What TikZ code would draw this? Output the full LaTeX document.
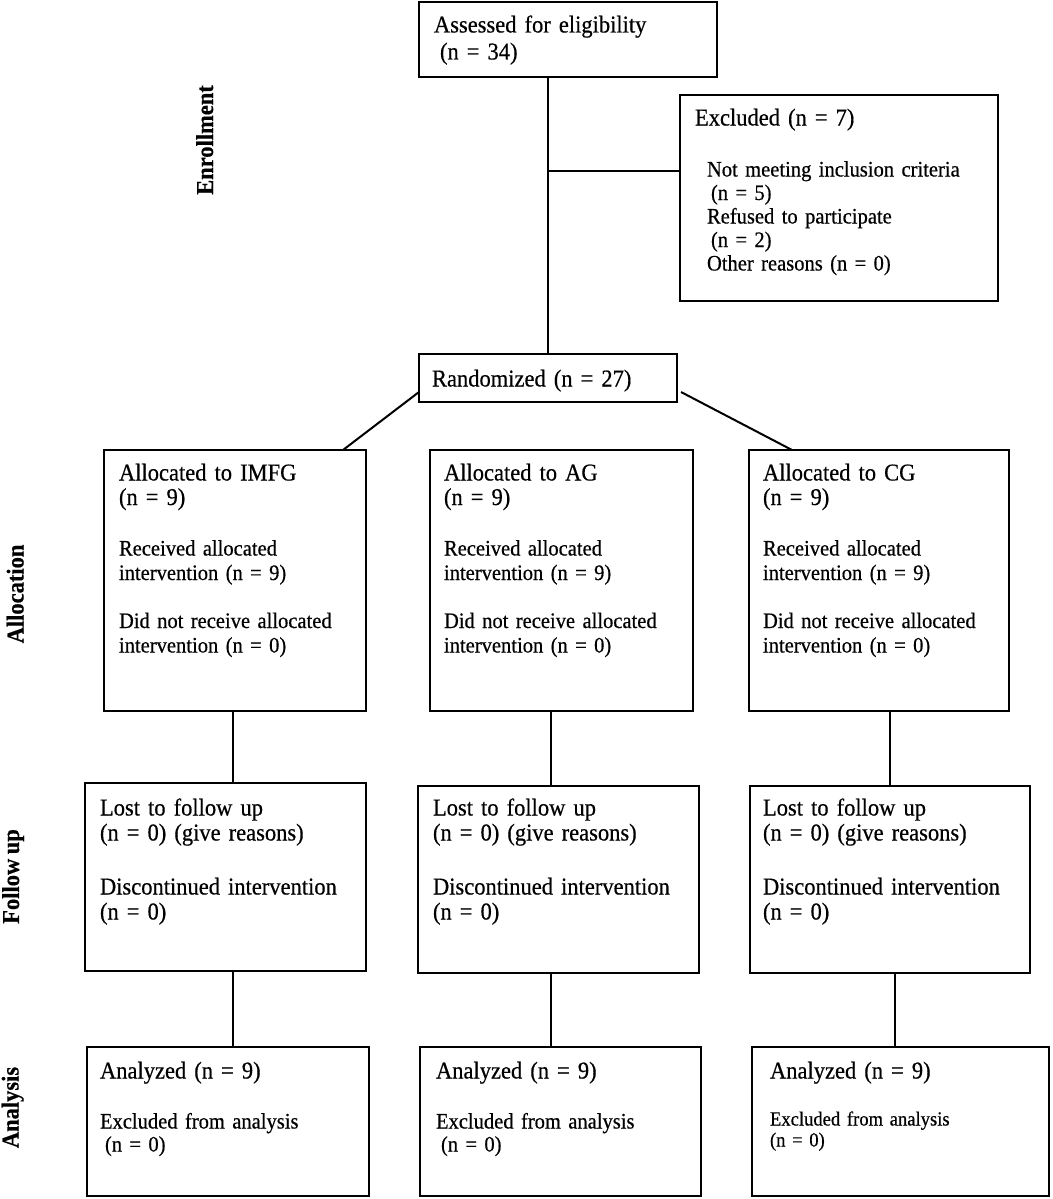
\documentclass[tikz,border=0pt]{standalone}
\usepackage{fontspec}
\setmainfont{Liberation Serif}[FakeStretch=0.93, WordSpace=0.8, FakeBold=0.5]
\usetikzlibrary{fit,calc}
\newcommand{\flowbox}[5]{%
  \path (#2,#3) coordinate (#1-nw) (#4,#5) coordinate (#1-se);
  \node[box, fit=(#1-nw)(#1-se)] (#1) {};}
\begin{document}
\begin{tikzpicture}[x=1pt,y=-1pt,
  box/.style={draw, line width=2.4pt, inner sep=0pt, outer sep=0pt},
  txt/.style={inner sep=0pt, outer sep=0pt, anchor=base west, align=left, text width=320pt},
  big/.style={font=\fontsize{24.2}{24.5}\selectfont},
  small/.style={font=\fontsize{22.1}{24.5}\selectfont},
  lab/.style={inner sep=0pt, outer sep=0pt, rotate=90, anchor=base, font=\fontsize{24.2}{24}\selectfont\bfseries},
  conn/.style={draw, line width=2pt},
  conn2/.style={draw, line width=1.7pt}]
\fill[white] (0,0) rectangle (1052,1199);
\useasboundingbox (0,0) rectangle (1052,1199);

% boxes
\flowbox{assess}{419}{2}{717}{77}
\flowbox{excl}{680}{95}{998}{301}
\flowbox{rand}{419}{354}{677}{402}
\flowbox{allocI}{104}{450}{366}{711}
\flowbox{allocA}{430}{450}{693}{711}
\flowbox{allocC}{749}{450}{1009}{711}
\flowbox{fuI}{85}{783}{366}{971}
\flowbox{fuA}{418}{786}{699}{973}
\flowbox{fuC}{750}{786}{1030}{973}
\flowbox{anI}{87}{1047}{369}{1196}
\flowbox{anA}{420}{1047}{701}{1196}
\flowbox{anC}{752}{1047}{1049}{1196}

% texts
\node[txt, font=\fontsize{24.2}{27}\selectfont] (assess-t) at (434,32.5) {Assessed for eligibility\\\hspace*{6pt}(n = 34)};
\node[txt, big] (excl-h) at (695,125.5) {Excluded (n = 7)};
\node[txt, font=\fontsize{22.1}{23.5}\selectfont] (excl-t) at (707,176.5) {Not meeting inclusion criteria\\\hspace*{4pt}(n = 5)\\Refused to participate\\\hspace*{4pt}(n = 2)\\Other reasons (n = 0)};
\node[txt, big] (rand-t) at (432,386.5) {Randomized (n = 27)};

\node[txt, big] (allocI-h) at (119,480.5) {Allocated to IMFG\\(n = 9)};
\node[txt, small] (allocI-t) at (119,555.5) {Received allocated\\intervention (n = 9)\\[23.5pt]Did not receive allocated\\intervention (n = 0)};
\node[txt, big] (allocA-h) at (444,480.5) {Allocated to AG\\(n = 9)};
\node[txt, small] (allocA-t) at (444,555.5) {Received allocated\\intervention (n = 9)\\[23.5pt]Did not receive allocated\\intervention (n = 0)};
\node[txt, big] (allocC-h) at (763,480.5) {Allocated to CG\\(n = 9)};
\node[txt, small] (allocC-t) at (763,555.5) {Received allocated\\intervention (n = 9)\\[23.5pt]Did not receive allocated\\intervention (n = 0)};

\node[txt, font=\fontsize{24.2}{25}\selectfont] (fuI-t) at (100,815.5) {Lost to follow up\\(n = 0) (give reasons)\\[29pt]Discontinued intervention\\(n = 0)};
\node[txt, font=\fontsize{24.2}{25}\selectfont] (fuA-t) at (433,815.5) {Lost to follow up\\(n = 0) (give reasons)\\[29pt]Discontinued intervention\\(n = 0)};
\node[txt, font=\fontsize{24.2}{25}\selectfont] (fuC-t) at (763,815.5) {Lost to follow up\\(n = 0) (give reasons)\\[29pt]Discontinued intervention\\(n = 0)};

\node[txt, big] (anI-h) at (100,1078.5) {Analyzed (n = 9)};
\node[txt, font=\fontsize{22.1}{23}\selectfont] (anI-t) at (100,1128.5) {Excluded from analysis\\\hspace*{5pt}(n = 0)};
\node[txt, big] (anA-h) at (436,1078.5) {Analyzed (n = 9)};
\node[txt, font=\fontsize{22.1}{23}\selectfont] (anA-t) at (436,1128.5) {Excluded from analysis\\\hspace*{5pt}(n = 0)};
\node[txt, big] (anC-h) at (770,1078.5) {Analyzed (n = 9)};
\node[txt, font=\fontsize{20}{21}\selectfont] (anC-t) at (770,1125.5) {Excluded from analysis\\(n = 0)};

% stage labels
\node[lab] (l-enr) at (213,140) {Enrollment};
\node[lab] (l-all) at (23.5,594) {Allocation};
\node[lab] (l-fu) at (19,876.5) {Follow up};
\node[lab] (l-an) at (18.5,1107.5) {Analysis};

% helper coordinates
\coordinate (jy) at (0,171);
\coordinate (dy) at (0,392);
\coordinate (vI) at (233,0);
\coordinate (vA) at (551,0);
\coordinate (vC1) at (890,0);
\coordinate (vC2) at (895,0);

% connectors
\draw[conn] (rand.north) -- (rand.north |- assess.south);
\draw[conn] (rand.north |- jy) -- (excl.west |- jy);
\draw[conn] (rand.west |- dy) -- ($(allocI.north east)+(-23,0)$);
\draw[conn] ($(rand.east |- dy)+(4,0)$) -- ($(allocC.north west)+(43,0)$);

\draw[conn2] (allocI.south -| vI) -- (fuI.north -| vI);
\draw[conn2] (fuI.south -| vI) -- (anI.north -| vI);
\draw[conn2] (allocA.south -| vA) -- (fuA.north -| vA);
\draw[conn2] (fuA.south -| vA) -- (anA.north -| vA);
\draw[conn2] (allocC.south -| vC1) -- (fuC.north -| vC1);
\draw[conn2] (fuC.south -| vC2) -- (anC.north -| vC2);
\end{tikzpicture}
\end{document}
